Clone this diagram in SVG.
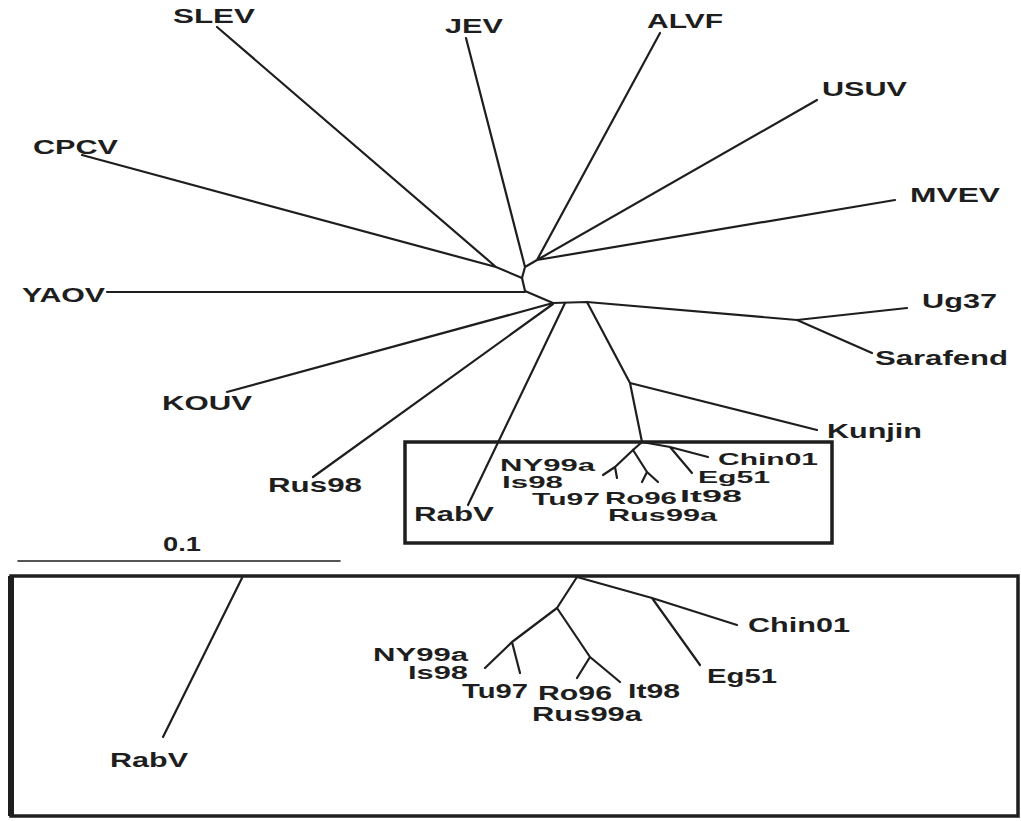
<svg xmlns="http://www.w3.org/2000/svg" width="1021" height="821" viewBox="0 0 1021 821">
<style>
text{font-family:"Liberation Sans",Arial,sans-serif;font-weight:bold;font-size:20px;fill:#1e1e1e}
text.s{font-size:17px}
text.m{font-size:18px}
.e{fill:none;stroke:#1e1e1e;stroke-width:2.2;stroke-linecap:round;stroke-linejoin:round}
.box{fill:none;stroke:#1e1e1e;stroke-width:3.5}
</style>
<rect width="1021" height="821" fill="#fff"/>
<g id="connectors" class="e">
<path d="M217,27 L496,267 M82,155 L496,267 L522,278"/>
<path d="M466,38 L525,267 M660,33 L537,260 M817,100 L537,260 M895,200 L537,260 L525,267 L522,278 L525,291 L553,303"/>
<path d="M107,292 L525,292"/>
<path d="M227,392 L553,303 M313,477 L553,304"/>
<path d="M553,303 L587,302 L797,320 M797,320 L907,308 M797,320 L872,353"/>
<path d="M468,505 L565,303"/>
<path d="M587,302 L630,383 L642,442 M630,383 L817,430"/>
<path d="M642,442 L633,450 M642,442 L670,447 L708,457 M670,447 L692,473"/>
<path d="M633,450 L615,467 L603,475 M615,467 L617,478 M633,450 L647,472 L658,482 M647,472 L642,482"/>
<path d="M18,561 L340,561" stroke-width="1.6"/>
<path d="M242,578 L163,737"/>
<path d="M577,577 L652,598 L737,625 M652,598 L700,665"/>
<path d="M577,577 L557,608 L512,642 L485,668 M512,642 L520,673 M557,608 L590,657 L620,682 M590,657 L577,678"/>
</g>
<g id="boxes">
<rect class="box" x="405" y="442" width="427" height="101"/>
<rect class="box" x="11" y="576" width="1007" height="240"/>
<path d="M11,576 L11,816" stroke="#1e1e1e" stroke-width="6"/>
</g>
<g id="scale"><text x="163" y="551" textLength="38" lengthAdjust="spacingAndGlyphs">0.1</text></g>
<g id="SLEV"><text x="173" y="23" textLength="82" lengthAdjust="spacingAndGlyphs">SLEV</text></g>
<g id="JEV"><text x="445" y="33" textLength="58" lengthAdjust="spacingAndGlyphs">JEV</text></g>
<g id="ALVF"><text x="647" y="28" textLength="76" lengthAdjust="spacingAndGlyphs">ALVF</text></g>
<g id="USUV"><text x="822" y="96" textLength="85" lengthAdjust="spacingAndGlyphs">USUV</text></g>
<g id="CPCV"><text x="33" y="154" textLength="85" lengthAdjust="spacingAndGlyphs">CPCV</text></g>
<g id="MVEV"><text x="910" y="202" textLength="90" lengthAdjust="spacingAndGlyphs">MVEV</text></g>
<g id="YAOV"><text x="22" y="302" textLength="83" lengthAdjust="spacingAndGlyphs">YAOV</text></g>
<g id="Ug37"><text x="922" y="308" textLength="75" lengthAdjust="spacingAndGlyphs">Ug37</text></g>
<g id="Sarafend"><text x="875" y="365" textLength="133" lengthAdjust="spacingAndGlyphs">Sarafend</text></g>
<g id="KOUV"><text x="162" y="410" textLength="90" lengthAdjust="spacingAndGlyphs">KOUV</text></g>
<g id="Kunjin"><text x="827" y="438" textLength="95" lengthAdjust="spacingAndGlyphs">Kunjin</text></g>
<g id="Rus98"><text x="268" y="492" textLength="94" lengthAdjust="spacingAndGlyphs">Rus98</text></g>
<g id="RabV-top"><text x="414" y="521" textLength="80" lengthAdjust="spacingAndGlyphs">RabV</text></g>
<g id="NY99a-top"><text class="s" x="500" y="471" textLength="95" lengthAdjust="spacingAndGlyphs">NY99a</text></g>
<g id="Is98-top"><text class="s" x="502" y="488" textLength="61" lengthAdjust="spacingAndGlyphs">Is98</text></g>
<g id="Tu97-top"><text class="s" x="532" y="505" textLength="68" lengthAdjust="spacingAndGlyphs">Tu97</text></g>
<g id="Ro96-top"><text class="s" x="605" y="504" textLength="72" lengthAdjust="spacingAndGlyphs">Ro96</text></g>
<g id="It98-top"><text class="s" x="680" y="502" textLength="62" lengthAdjust="spacingAndGlyphs">It98</text></g>
<g id="Rus99a-top"><text class="s" x="608" y="521" textLength="109" lengthAdjust="spacingAndGlyphs">Rus99a</text></g>
<g id="Chin01-top"><text class="s" x="718" y="465" textLength="100" lengthAdjust="spacingAndGlyphs">Chin01</text></g>
<g id="Eg51-top"><text class="s" x="698" y="483" textLength="72" lengthAdjust="spacingAndGlyphs">Eg51</text></g>
<g id="RabV-bottom"><text x="110" y="767" textLength="78" lengthAdjust="spacingAndGlyphs">RabV</text></g>
<g id="NY99a-bottom"><text class="m" x="373" y="661" textLength="95" lengthAdjust="spacingAndGlyphs">NY99a</text></g>
<g id="Is98-bottom"><text class="m" x="408" y="679" textLength="60" lengthAdjust="spacingAndGlyphs">Is98</text></g>
<g id="Tu97-bottom"><text x="462" y="698" textLength="66" lengthAdjust="spacingAndGlyphs">Tu97</text></g>
<g id="Ro96-bottom"><text x="538" y="700" textLength="74" lengthAdjust="spacingAndGlyphs">Ro96</text></g>
<g id="It98-bottom"><text x="628" y="698" textLength="52" lengthAdjust="spacingAndGlyphs">It98</text></g>
<g id="Rus99a-bottom"><text x="532" y="721" textLength="110" lengthAdjust="spacingAndGlyphs">Rus99a</text></g>
<g id="Eg51-bottom"><text x="707" y="683" textLength="70" lengthAdjust="spacingAndGlyphs">Eg51</text></g>
<g id="Chin01-bottom"><text x="748" y="632" textLength="102" lengthAdjust="spacingAndGlyphs">Chin01</text></g>
</svg>
